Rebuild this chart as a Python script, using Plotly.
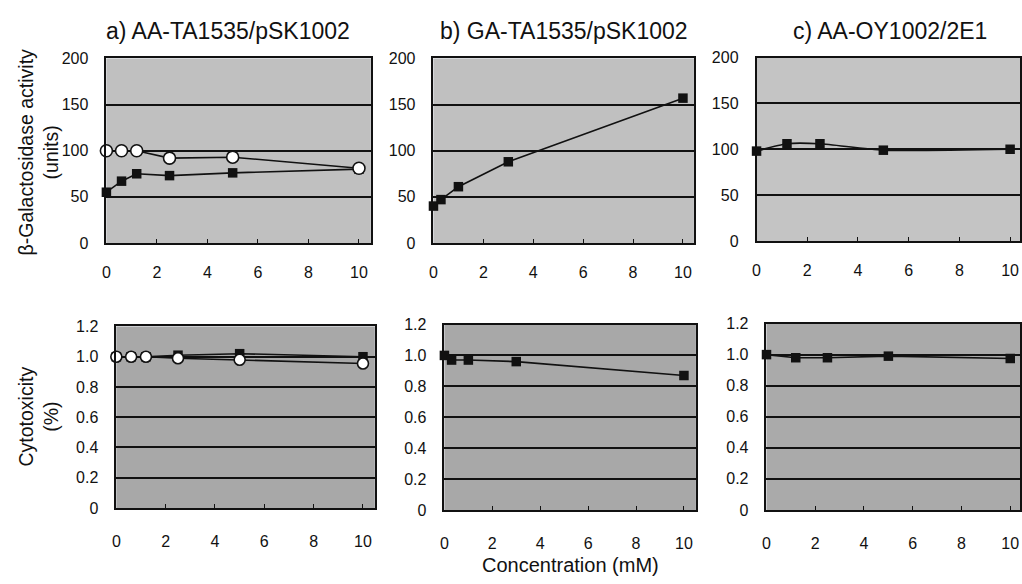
import plotly.graph_objects as go

W, H = 1022, 584

# Concentrations (mM) and responses for each strain
a_x = [0, 0.6, 1.2, 2.5, 5, 10]
a_beta_circle = [100, 100, 100, 92, 93, 81]
a_beta_square = [55, 67, 75, 73, 76, 80]
a_cyto_circle = [1.0, 1.0, 1.0, 0.99, 0.98, 0.955]
a_cyto_square = [1.0, 1.0, 1.0, 1.01, 1.02, 1.0]

b_x = [0, 0.3, 1, 3, 10]
b_beta = [40, 47, 61, 88, 157]
b_cyto = [1.0, 0.97, 0.97, 0.96, 0.87]

c_x = [0, 1.2, 2.5, 5, 10]
c_beta = [98, 106, 106, 99, 100]
c_cyto = [1.0, 0.98, 0.98, 0.99, 0.975]

titles = ["a) AA-TA1535/pSK1002", "b) GA-TA1535/pSK1002", "c) AA-OY1002/2E1"]
x_ticks = [0, 2, 4, 6, 8, 10]
beta_ticks = [0, 50, 100, 150, 200]
cyto_ticks = [0, 0.2, 0.4, 0.6, 0.8, 1.0, 1.2]
cyto_labels = ["0", "0.2", "0.4", "0.6", "0.8", "1.0", "1.2"]

FONT = "Liberation Sans, Arial, sans-serif"
INK = "#111111"

# panel boxes in pixels: (left, right, top, bottom, xmax)
boxes = [
    (103, 369, 52, 242, 10.47),
    (432, 694, 52, 242, 10.44),
    (757, 1022, 51, 240, 10.39),
    (113, 373, 328, 515, 10.48),
    (443, 696, 326, 517, 10.5),
    (767, 1022, 325, 517, 10.4),
]
bgs = ["#c0c0c0", "#c0c0c0", "#c4c4c4", "#a8a8a8", "#a8a8a8", "#aaaaaa"]

fig = go.Figure()

sq = dict(symbol="square", size=9.5, color=INK, line=dict(width=0))
ci = dict(symbol="circle", size=12, color="white", line=dict(width=1.6, color=INK))
ln = dict(color=INK, width=1.6)


def add(x, y, k, marker, shape="linear"):
    sfx = "" if k == 1 else str(k)
    line = dict(shape=shape, **ln)
    if shape == "spline":
        line["smoothing"] = 0.6
    fig.add_trace(go.Scatter(x=x, y=y, mode="lines+markers", marker=marker,
                             line=line, xaxis="x" + sfx,
                             yaxis="y" + sfx, cliponaxis=False, showlegend=False))


add(a_x, a_beta_square, 1, sq)
add(a_x, a_beta_circle, 1, ci)
add(b_x, b_beta, 2, sq)
add(c_x, c_beta, 3, sq, "spline")
add(a_x, a_cyto_square, 4, sq)
add(a_x, a_cyto_circle, 4, dict(ci, size=11))
add(b_x, b_cyto, 5, sq)
add(c_x, c_cyto, 6, sq)

layout = dict(width=W, height=H, margin=dict(l=0, r=0, t=0, b=0),
              paper_bgcolor="white", showlegend=False,
              font=dict(family=FONT, color=INK, size=14))

tick_font = dict(family=FONT, size=16, color=INK)
shapes = []
for i, (l, r, t, b, xmax) in enumerate(boxes):
    k = i + 1
    sfx = "" if k == 1 else str(k)
    top = i < 3
    layout["xaxis" + sfx] = dict(
        domain=[l / W, r / W], range=[0, xmax], anchor="y" + sfx,
        tickvals=x_ticks, ticks="inside", ticklen=4, tickcolor=INK,
        showgrid=False, zeroline=False, showline=True, linecolor=INK,
        linewidth=1.6, mirror=True, tickfont=tick_font,
        ticklabelstandoff=14 if top else 18, fixedrange=True)
    layout["yaxis" + sfx] = dict(
        domain=[1 - b / H, 1 - t / H],
        range=[0, 200] if top else [0, 1.2], anchor="x" + sfx,
        tickvals=beta_ticks if top else cyto_ticks,
        ticktext=None if top else cyto_labels,
        ticks="", showgrid=True, gridcolor=INK, gridwidth=1.8,
        zeroline=False, showline=True, linecolor=INK, linewidth=1.6,
        mirror=True, tickfont=tick_font,
        ticklabelstandoff=13, fixedrange=True)
    shapes.append(dict(type="rect", xref="x" + sfx + " domain", yref="y" + sfx + " domain",
                       x0=0, x1=1, y0=0, y1=1, fillcolor=bgs[i], line=dict(width=0),
                       layer="below"))

layout["shapes"] = shapes

ann = []
title_x = [225, 563, 891]
for tx, txt in zip(title_x, titles):
    ann.append(dict(text=txt, x=tx / W, y=1 - 24 / H, xref="paper", yref="paper",
                    showarrow=False, font=dict(size=23, color=INK),
                    xanchor="center", yanchor="middle"))
ann.append(dict(text="β-Galactosidase activity<br>(units)", x=35 / W, y=1 - 148 / H,
                xref="paper", yref="paper", showarrow=False, textangle=-90,
                font=dict(size=19.5, color=INK), xanchor="center", yanchor="middle"))
ann.append(dict(text="Cytotoxicity<br>(%)", x=35 / W, y=1 - 421 / H,
                xref="paper", yref="paper", showarrow=False, textangle=-90,
                font=dict(size=19.5, color=INK), xanchor="center", yanchor="middle"))
ann.append(dict(text="Concentration (mM)", x=570 / W, y=1 - 574 / H,
                xref="paper", yref="paper", showarrow=False,
                font=dict(size=20, color=INK), xanchor="center", yanchor="middle"))
layout["annotations"] = ann

fig.update_layout(**layout)
fig.write_html("out.html")
